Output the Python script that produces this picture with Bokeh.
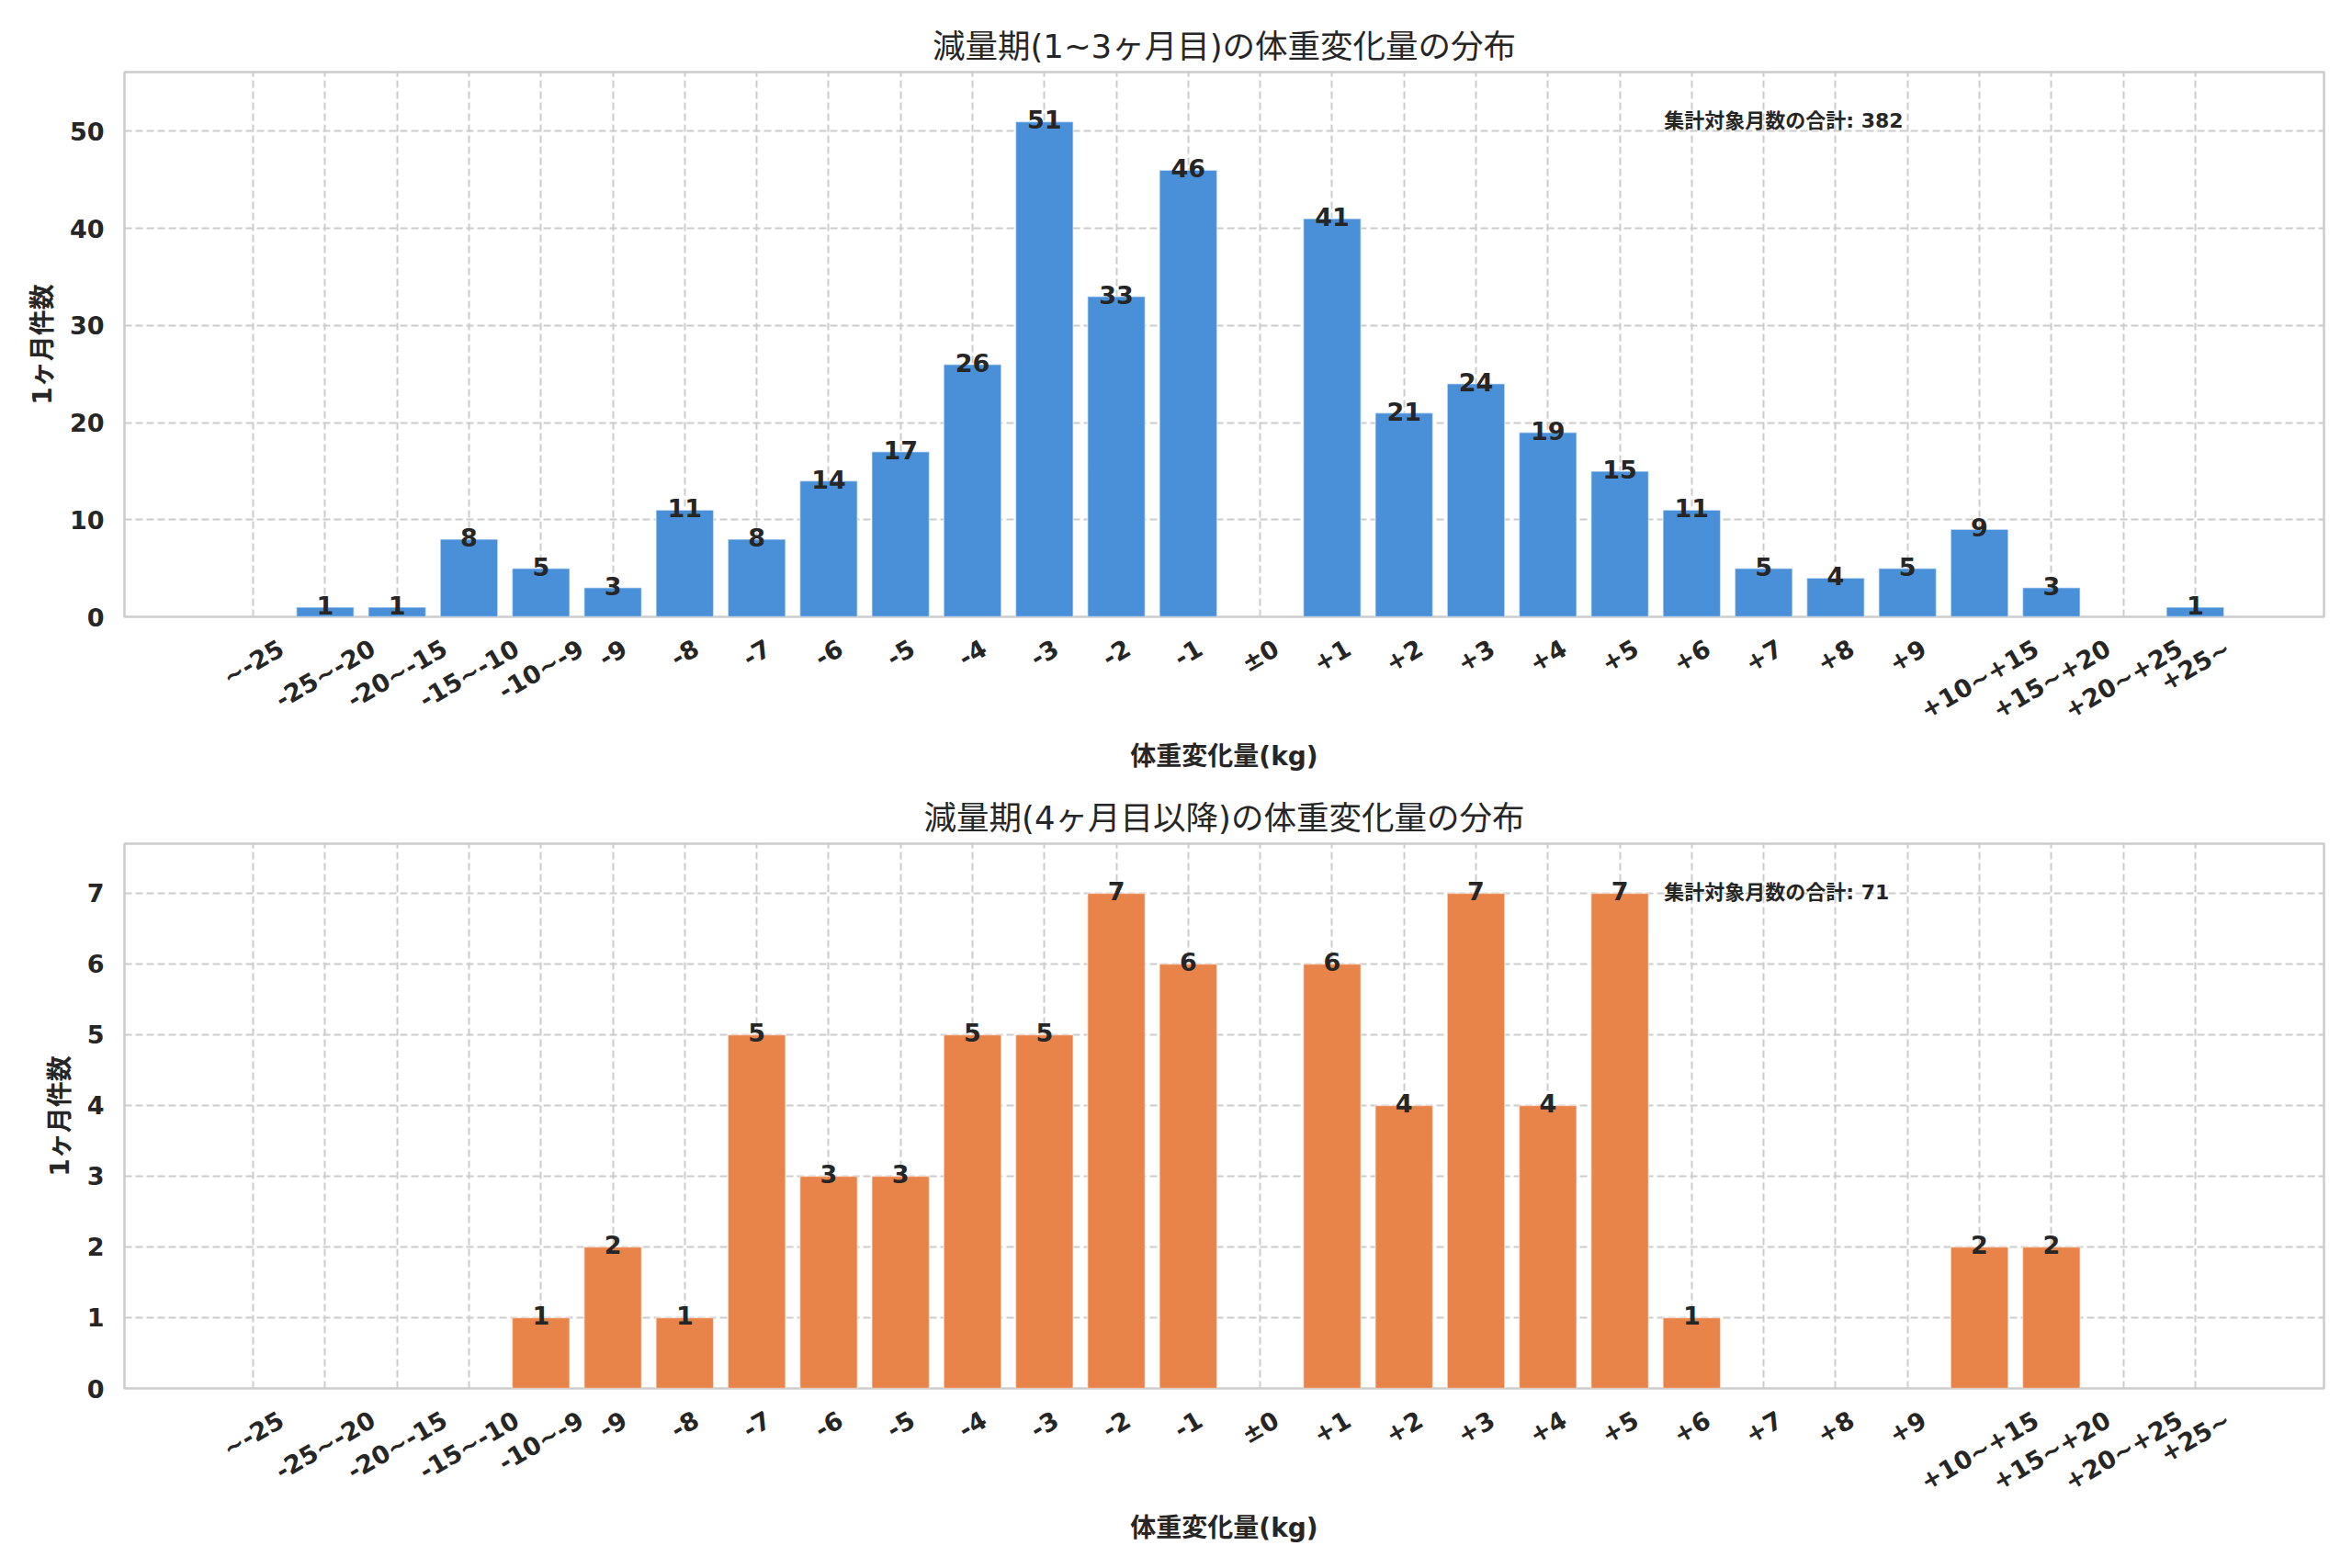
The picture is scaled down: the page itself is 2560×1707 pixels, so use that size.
import math
from bokeh.plotting import figure
from bokeh.layouts import column
from bokeh.models import ColumnDataSource, Range1d, FixedTicker, Label, Title
from bokeh.core.properties import value
from bokeh.embed import file_html
from bokeh.resources import INLINE

categories = ["~-25", "-25~-20", "-20~-15", "-15~-10", "-10~-9", "-9", "-8", "-7", "-6", "-5",
              "-4", "-3", "-2", "-1", "±0", "+1", "+2", "+3", "+4", "+5", "+6", "+7", "+8", "+9",
              "+10~+15", "+15~+20", "+20~+25", "+25~"]
early_counts = [0, 1, 1, 8, 5, 3, 11, 8, 14, 17, 26, 51, 33, 46, 0, 41, 21, 24, 19, 15, 11, 5, 4, 5,
                9, 3, 0, 1]
late_counts = [0, 0, 0, 0, 1, 2, 1, 5, 3, 3, 5, 5, 7, 6, 0, 6, 4, 7, 4, 7, 1, 0, 0, 0, 2, 2, 0, 0]
early_ticks = [0, 10, 20, 30, 40, 50]
late_ticks = [0, 1, 2, 3, 4, 5, 6, 7]

title_early = "減量期(1~3ヶ月目)の体重変化量の分布"
title_late = "減量期(4ヶ月目以降)の体重変化量の分布"
x_label = "体重変化量(kg)"
y_label = "1ヶ月件数"
total_label = "集計対象月数の合計"

FONT = "DejaVu Sans, Noto Sans CJK JP, sans-serif"
TXT = "#262626"
FS = 27.0            # tick label font size (px)
FRAME_W = 2394
FRAME_H = 593
ANGLE = math.pi / 6
# approximate advance widths (em) of DejaVu Sans Bold, used to centre the rotated labels
CHAR_W = {"-": 0.415, "~": 0.838, "+": 0.838, "±": 0.838}


def label_len(s):
    return sum(CHAR_W.get(c, 0.696) for c in s) * FS


def make_plot(title, counts, yticks, color, min_top):
    n = len(categories)
    xs = list(range(n))
    ymax = max(counts) * 1.1
    x0, x1 = -0.4 - 0.05 * (n - 1 + 0.8), n - 1 + 0.4 + 0.05 * (n - 1 + 0.8)
    px_per_unit = FRAME_W / (x1 - x0)
    p = figure(width=2544, frame_width=FRAME_W, frame_height=FRAME_H,
               min_border_left=135, min_border_right=15, min_border_top=min_top,
               min_border_bottom=178,
               x_range=Range1d(x0, x1), y_range=Range1d(0, ymax),
               output_backend="svg", toolbar_location=None)
    p.title = Title(text=title, align="center", text_font=FONT, text_font_size="35.5px",
                    text_font_style="normal", text_color=TXT, standoff=15)
    p.background_fill_color = "white"
    p.border_fill_color = "white"
    p.outline_line_color = "#cccccc"
    p.outline_line_width = 2.5

    bx = [x for x, c in zip(xs, counts) if c > 0]
    bt = [c for c in counts if c > 0]
    src = ColumnDataSource(dict(x=bx, top=bt, text=[str(c) for c in bt]))
    p.vbar(x="x", top="top", width=0.8, bottom=0, source=src, fill_color=color,
           line_color="white", line_width=1.5, line_alpha=0.5)
    p.text(x="x", y="top", text="text", source=src, text_align="center",
           text_baseline="alphabetic", y_offset=-2, text_font=value(FONT),
           text_font_size="27px", text_font_style="bold", text_color=TXT)

    lab = Label(x=x0 + 0.7 * (x1 - x0), y=0.91 * ymax,
                text=f"{total_label}: {sum(counts)}", text_align="left",
                text_baseline="middle", text_font=FONT, text_font_size="22px",
                text_font_style="bold", text_color=TXT)
    p.add_layout(lab)

    for g in (p.xgrid[0], p.ygrid[0]):
        g.grid_line_color = "#cccccc"
        g.grid_line_width = 2
        g.grid_line_dash = "8 4"
    p.xgrid[0].ticker = FixedTicker(ticks=xs)
    p.ygrid[0].ticker = FixedTicker(ticks=yticks)

    # Bokeh anchors rotated labels at their right end; shift each label's anchor so that
    # the rotated label's bounding box is centred on its category position.
    label_pos = [round(i + 0.433 * label_len(c) / px_per_unit, 4)
                 for i, c in zip(xs, categories)]
    xa = p.xaxis[0]
    xa.ticker = FixedTicker(ticks=label_pos)
    xa.major_label_overrides = {pos: c for pos, c in zip(label_pos, categories)}
    xa.major_label_orientation = ANGLE
    xa.axis_label = x_label
    ya = p.yaxis[0]
    ya.ticker = FixedTicker(ticks=yticks)
    ya.axis_label = y_label
    for ax in (xa, ya):
        ax.axis_line_color = None
        ax.major_tick_line_color = None
        ax.minor_tick_line_color = None
        ax.major_tick_out = 0
        ax.major_tick_in = 0
        ax.major_label_text_font = FONT
        ax.major_label_text_font_size = f"{FS}px"
        ax.major_label_text_font_style = "bold"
        ax.major_label_text_color = TXT
        ax.axis_label_text_font = FONT
        ax.axis_label_text_font_size = "28px"
        ax.axis_label_text_font_style = "bold"
        ax.axis_label_text_color = TXT
    xa.major_label_standoff = 32
    xa.axis_label_standoff = 2
    ya.major_label_standoff = 22
    ya.axis_label_standoff = 10
    return p


p1 = make_plot(title_early, early_counts, early_ticks, "#4A90D9", 78)
p2 = make_plot(title_late, late_counts, late_ticks, "#E8834A", 69)
layout = column(p1, p2, spacing=0)

open("out.html", "w").write(file_html(layout, INLINE))
